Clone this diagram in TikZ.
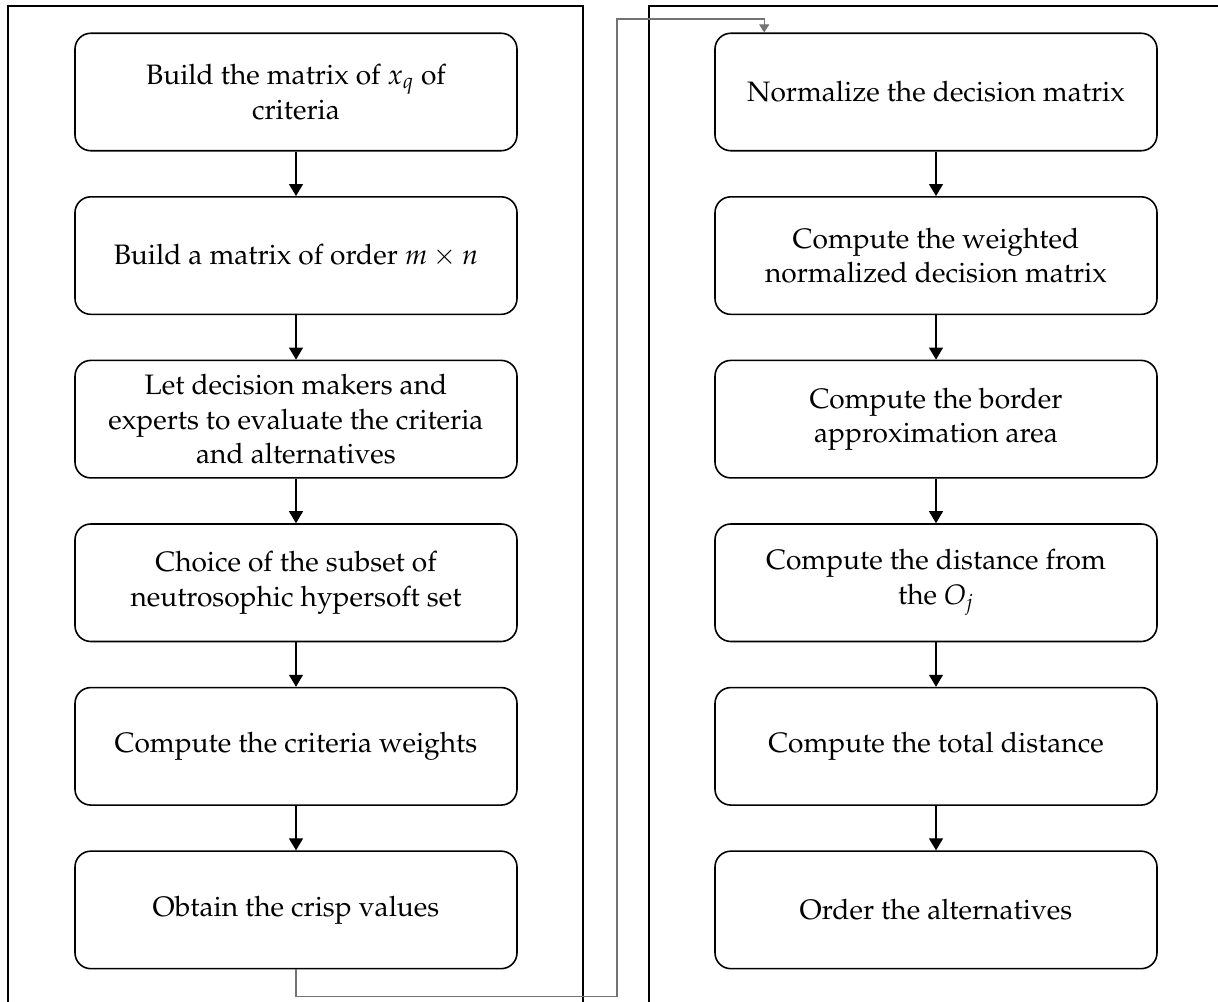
\documentclass[tikz,border=0pt]{standalone}
\usepackage[T1]{fontenc}
\usepackage{mathpazo}
\usepackage{tikz}
\usetikzlibrary{arrows.meta,positioning,calc}
\tikzset{
  stepbox/.style={draw=black, rounded corners=9pt, line width=0.9pt,
    minimum width=88.4mm, minimum height=23.5mm, align=center, fill=white,
    font=\fontsize{16}{19.6}\selectfont},
  frame/.style={draw=black, line width=1pt},
  flow/.style={-{Triangle[length=2.4mm,width=2.8mm]}, line width=0.6pt},
  link/.style={-{Triangle[length=1.6mm,width=2mm]}, draw=black!55, line width=0.6pt}
}

\begin{document}
\begin{tikzpicture}[node distance=8.9mm]
\clip (0,0) rectangle (24.36,-20.04);
\draw[frame] (0.16,-0.12) rectangle (11.66,-21);
\draw[frame] (12.98,-0.12) rectangle (25,-21);

% left column
\node[stepbox] (l1) at (5.92,-1.84) {Build the matrix of $x_q$ of\\criteria};
\node[stepbox, below=of l1] (l2) {Build a matrix of order $m\times n$};
\node[stepbox, below=of l2] (l3) {Let decision makers and\\experts to evaluate the criteria\\and alternatives};
\node[stepbox, below=of l3] (l4) {Choice of the subset of\\neutrosophic hypersoft set};
\node[stepbox, below=of l4] (l5) {Compute the criteria weights};
\node[stepbox, below=of l5] (l6) {Obtain the crisp values};

% right column
\node[stepbox] (r1) at (18.72,-1.84) {Normalize the decision matrix};
\node[stepbox, below=of r1] (r2) {Compute the weighted\\normalized decision matrix};
\node[stepbox, below=of r2] (r3) {Compute the border\\approximation area};
\node[stepbox, below=of r3] (r4) {Compute the distance from\\the $O_j$};
\node[stepbox, below=of r4] (r5) {Compute the total distance};
\node[stepbox, below=of r5] (r6) {Order the alternatives};

\draw[flow] (l1)--(l2);
\draw[flow] (l2)--(l3);
\draw[flow] (l3)--(l4);
\draw[flow] (l4)--(l5);
\draw[flow] (l5)--(l6);

\draw[flow] (r1)--(r2);
\draw[flow] (r2)--(r3);
\draw[flow] (r3)--(r4);
\draw[flow] (r4)--(r5);
\draw[flow] (r5)--(r6);

% hand-over between the columns
\coordinate (rin) at ($(r1.north west)+(1.0,0)$);
\coordinate (up) at (12.34,-0.38);
\draw[link] (l6.south) -- ++(0,-0.54) -| (up) -| (rin);
\end{tikzpicture}
\end{document}
